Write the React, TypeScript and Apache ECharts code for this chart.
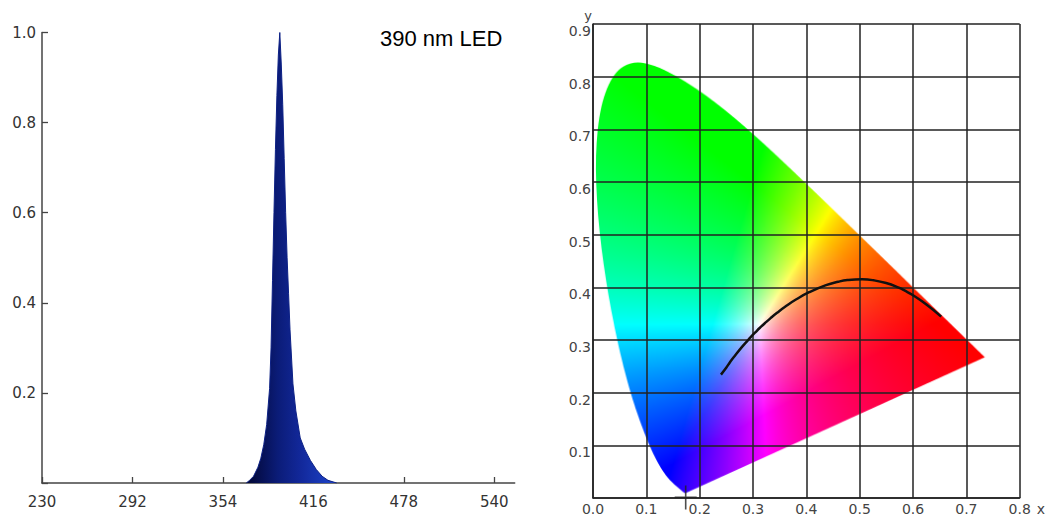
import React, { useEffect, useRef } from "react";
import * as echarts from "echarts";

// ---- Left panel: LED emission spectrum ----
const WAVELENGTH_NM = [370, 372, 375, 378, 380, 382, 384, 386, 387, 388, 389, 390, 391, 392, 393, 394, 395, 396, 397, 398, 399, 400, 402, 404, 407, 410, 414, 418, 422, 426, 432];
const INTENSITY = [0, 0.005, 0.015, 0.035, 0.055, 0.085, 0.13, 0.21, 0.3, 0.45, 0.6, 0.74, 0.86, 0.95, 1.0, 0.93, 0.84, 0.72, 0.6, 0.5, 0.42, 0.34, 0.22, 0.16, 0.1, 0.075, 0.05, 0.03, 0.015, 0.006, 0];
const WAVELENGTH_TICKS = [230, 292, 354, 416, 478, 540];
const PANEL_LABEL = "390 nm LED";

// ---- Right panel: CIE 1931 chromaticity diagram ----
const LOCUS_X = [0.1741, 0.1740, 0.1738, 0.1736, 0.1733, 0.1730, 0.1726, 0.1721, 0.1714, 0.1703, 0.1689, 0.1669, 0.1644, 0.1611, 0.1566, 0.1510, 0.1440, 0.1355, 0.1241, 0.1096, 0.0913, 0.0687, 0.0454, 0.0235, 0.0082, 0.0039, 0.0139, 0.0389, 0.0743, 0.1142, 0.1547, 0.1929, 0.2296, 0.2658, 0.3016, 0.3373, 0.3731, 0.4087, 0.4441, 0.4788, 0.5125, 0.5448, 0.5752, 0.6029, 0.6270, 0.6482, 0.6658, 0.6801, 0.6915, 0.7006, 0.7079, 0.7140, 0.7190, 0.7230, 0.7260, 0.7283, 0.7300, 0.7311, 0.7320, 0.7327, 0.7334, 0.7340, 0.7344, 0.7346, 0.7347];
const LOCUS_Y = [0.0050, 0.0050, 0.0049, 0.0049, 0.0048, 0.0048, 0.0048, 0.0048, 0.0051, 0.0058, 0.0069, 0.0086, 0.0109, 0.0138, 0.0177, 0.0227, 0.0297, 0.0399, 0.0578, 0.0868, 0.1327, 0.2007, 0.2950, 0.4127, 0.5384, 0.6548, 0.7502, 0.8120, 0.8338, 0.8262, 0.8059, 0.7816, 0.7543, 0.7243, 0.6923, 0.6589, 0.6245, 0.5896, 0.5547, 0.5202, 0.4866, 0.4544, 0.4242, 0.3965, 0.3725, 0.3514, 0.3340, 0.3197, 0.3083, 0.2993, 0.2920, 0.2859, 0.2809, 0.2770, 0.2740, 0.2717, 0.2700, 0.2689, 0.2680, 0.2673, 0.2666, 0.2660, 0.2656, 0.2654, 0.2653];
const PLANCK_X = [0.6528, 0.6251, 0.5985, 0.5857, 0.5732, 0.5496, 0.5267, 0.5046, 0.4770, 0.4599, 0.4369, 0.4053, 0.3805, 0.3608, 0.3451, 0.3325, 0.3221, 0.3135, 0.3064, 0.2952, 0.2806, 0.2637, 0.2565, 0.2501, 0.2399];
const PLANCK_Y = [0.3444, 0.3674, 0.3858, 0.3931, 0.3993, 0.4081, 0.4133, 0.4152, 0.4137, 0.4106, 0.4041, 0.3907, 0.3768, 0.3636, 0.3516, 0.3411, 0.3318, 0.3237, 0.3166, 0.3048, 0.2883, 0.2671, 0.2573, 0.2477, 0.2342];
const LED_X = [0.1738];
const LED_Y = [0.0049];
const CIE_X_MAX = 0.8;
const CIE_Y_MAX = 0.9;

function buildGamutImage(w: number, h: number): string {
  const c = document.createElement("canvas");
  c.width = w;
  c.height = h;
  const ctx = c.getContext("2d");
  if (!ctx) return "";
  const img = ctx.createImageData(w, h);
  const d = img.data;
  for (let j = 0; j < h; j++) {
    const y = CIE_Y_MAX - ((j + 0.5) / h) * CIE_Y_MAX;
    for (let i = 0; i < w; i++) {
      const x = ((i + 0.5) / w) * CIE_X_MAX;
      const X = x / y;
      const Y = 1;
      const Z = (1 - x - y) / y;
      let r = 3.2406 * X - 1.5372 * Y - 0.4986 * Z;
      let g = -0.9689 * X + 1.8758 * Y + 0.0415 * Z;
      let b = 0.0557 * X - 0.204 * Y + 1.057 * Z;
      r = Math.max(0, r);
      g = Math.max(0, g);
      b = Math.max(0, b);
      const mn = Math.min(r, g, b) * 0.2;
      r -= mn; g -= mn; b -= mn;
      const m = Math.max(r, g, b, 1e-9);
      r /= m; g /= m; b /= m;
      const gm = 1 / 1.15;
      const k = (j * w + i) * 4;
      d[k] = Math.round(255 * Math.pow(r, gm));
      d[k + 1] = Math.round(255 * Math.pow(g, gm));
      d[k + 2] = Math.round(255 * Math.pow(b, gm));
      d[k + 3] = 255;
    }
  }
  ctx.putImageData(img, 0, 0);
  ctx.globalCompositeOperation = "destination-in";
  // smooth outline of the spectral locus (quadratic curves through midpoints), closed by the purple line
  const pts = LOCUS_X.map((lx, n) => [(lx / CIE_X_MAX) * w, ((CIE_Y_MAX - LOCUS_Y[n]) / CIE_Y_MAX) * h]);
  ctx.beginPath();
  ctx.moveTo(pts[0][0], pts[0][1]);
  for (let n = 1; n < pts.length - 1; n++) {
    const mx = (pts[n][0] + pts[n + 1][0]) / 2;
    const my = (pts[n][1] + pts[n + 1][1]) / 2;
    ctx.quadraticCurveTo(pts[n][0], pts[n][1], mx, my);
  }
  ctx.lineTo(pts[pts.length - 1][0], pts[pts.length - 1][1]);
  ctx.closePath();
  ctx.fill();
  return c.toDataURL("image/png");
}

export default function App() {
  const ref = useRef<HTMLDivElement>(null);

  useEffect(() => {
    document.body.style.margin = "0";
    if (!ref.current) return;
    const chart = echarts.init(ref.current, null, { renderer: "svg" });
    const gamutUrl = buildGamutImage(866, 952);

    const labelFont = "DejaVu Sans, Verdana, sans-serif";

    chart.setOption({
      animation: false,
      backgroundColor: "#ffffff",
      grid: [
        { left: 42, top: 32.5, width: 472.7, height: 450.5 },
        { left: 593, top: 24, width: 433, height: 476 },
      ],
      xAxis: [
        {
          gridIndex: 0,
          type: "value",
          min: 230,
          max: 554,
          axisLine: { show: true, lineStyle: { color: "#444", width: 1.5 } },
          axisTick: { show: true, inside: true, length: 6, customValues: WAVELENGTH_TICKS, lineStyle: { color: "#444", width: 1.3 } },
          axisLabel: { show: true, customValues: WAVELENGTH_TICKS, margin: 11, fontSize: 15, color: "#333", fontFamily: labelFont },
          splitLine: { show: false },
        },
        {
          gridIndex: 1,
          type: "value",
          min: 0,
          max: CIE_X_MAX,
          interval: 0.1,
          z: 3,
          name: "x",
          nameLocation: "end",
          nameGap: 8,
          nameTextStyle: { fontSize: 14, color: "#444", fontFamily: labelFont, verticalAlign: "top", padding: [4, 0, 0, 0] },
          axisLine: { show: true, lineStyle: { color: "#222", width: 1.5 } },
          axisTick: { show: false },
          axisLabel: { margin: 4, fontSize: 14, color: "#444", fontFamily: labelFont, formatter: (v: number) => v.toFixed(1) },
          splitLine: { show: true, lineStyle: { color: "#222", width: 1.5 } },
        },
      ],
      yAxis: [
        {
          gridIndex: 0,
          type: "value",
          min: 0,
          max: 1,
          interval: 0.2,
          axisLine: { show: true, lineStyle: { color: "#444", width: 1.5 } },
          axisTick: { show: true, inside: true, length: 6, lineStyle: { color: "#444", width: 1.3 } },
          axisLabel: { margin: 6, fontSize: 15, color: "#333", fontFamily: labelFont, formatter: (v: number) => (v === 0 ? "" : v.toFixed(1)) },
          splitLine: { show: false },
        },
        {
          gridIndex: 1,
          type: "value",
          min: 0,
          max: CIE_Y_MAX,
          interval: 0.1,
          z: 3,
          name: "y",
          nameLocation: "end",
          nameGap: 2,
          nameTextStyle: { fontSize: 13, color: "#444", fontFamily: labelFont, padding: [0, 10, 0, 0] },
          axisLine: { show: true, lineStyle: { color: "#222", width: 1.5 } },
          axisTick: { show: false },
          axisLabel: { margin: 2, fontSize: 14, color: "#444", fontFamily: labelFont, verticalAlign: "top", formatter: (v: number) => (v === 0 ? "" : v.toFixed(1)) },
          splitLine: { show: true, lineStyle: { color: "#222", width: 1.5 } },
        },
      ],
      graphic: [
        {
          type: "text",
          left: 380,
          top: 27,
          style: { text: PANEL_LABEL, fontSize: 22, fill: "#000", fontFamily: "Liberation Sans, Arial, sans-serif" },
        },
      ],
      series: [
        {
          type: "line",
          xAxisIndex: 0,
          yAxisIndex: 0,
          data: WAVELENGTH_NM.map((w, i) => [w, INTENSITY[i]]),
          showSymbol: false,
          symbol: "none",
          lineStyle: { color: "#0d2185", width: 1 },
          areaStyle: {
            opacity: 1,
            color: new echarts.graphic.LinearGradient(0, 0, 1, 0, [
              { offset: 0, color: "#020632" },
              { offset: 0.35, color: "#0b1c78" },
              { offset: 0.6, color: "#12289a" },
              { offset: 1, color: "#1e45cc" },
            ]),
          },
        },
        {
          type: "custom",
          xAxisIndex: 1,
          yAxisIndex: 1,
          z: 1,
          data: [[0, CIE_Y_MAX]],
          renderItem: (_params: any, api: any) => {
            const tl = api.coord([0, CIE_Y_MAX]);
            const br = api.coord([CIE_X_MAX, 0]);
            return {
              type: "image",
              style: { image: gamutUrl, x: tl[0], y: tl[1], width: br[0] - tl[0], height: br[1] - tl[1] },
            };
          },
        },
        {
          type: "line",
          xAxisIndex: 1,
          yAxisIndex: 1,
          z: 5,
          smooth: true,
          showSymbol: false,
          symbol: "none",
          data: PLANCK_X.map((x, i) => [x, PLANCK_Y[i]]),
          lineStyle: { color: "#111", width: 2.5 },
        },
        {
          type: "scatter",
          xAxisIndex: 1,
          yAxisIndex: 1,
          z: 6,
          data: LED_X.map((x, i) => [x, LED_Y[i]]),
          symbol: "path://M0,11 h22 v1.6 h-22 Z M10.2,0 h1.6 v24 h-1.6 Z",
          symbolSize: [22, 24],
          symbolOffset: [0, 2],
          itemStyle: { color: "#222" },
        },
      ],
    });

    return () => chart.dispose();
  }, []);

  return <div ref={ref} style={{ position: "fixed", left: 0, top: 0, width: 1048, height: 516 }} />;
}
